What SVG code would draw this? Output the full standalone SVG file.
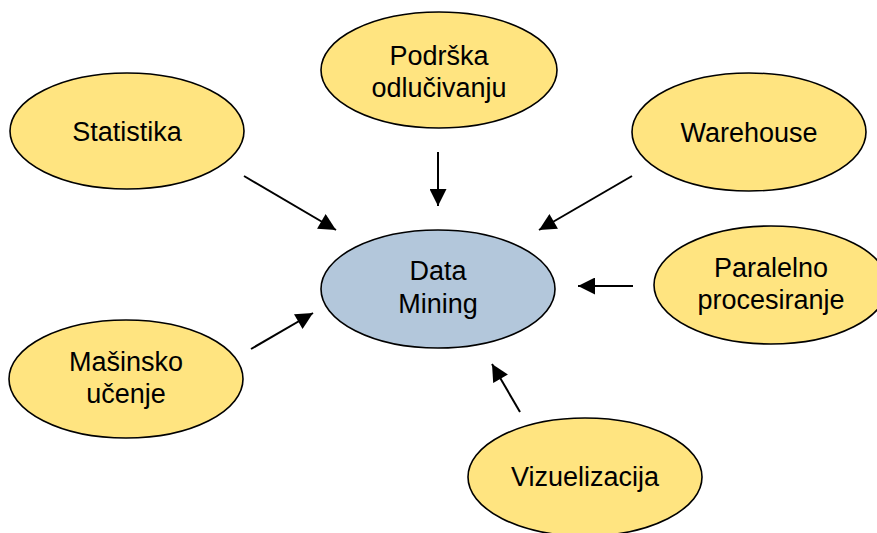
<svg xmlns="http://www.w3.org/2000/svg" width="877" height="533" viewBox="0 0 877 533">
<defs>
<style>
.y{fill:#FFE480;stroke:#000;stroke-width:1.6}
.b{fill:#B3C7DB;stroke:#000;stroke-width:1.6}
text{font-family:"Liberation Sans",Arial,sans-serif;font-size:27px;fill:#000;text-anchor:middle}
.c{stroke:#000;stroke-width:2;fill:none;marker-end:url(#ah)}
</style>
<marker id="ah" viewBox="0 0 10 10" refX="10" refY="5" markerUnits="userSpaceOnUse" markerWidth="18" markerHeight="17" orient="auto">
<path d="M0,0 L10,5 L0,10 Z" fill="#000"/>
</marker>
</defs>
<rect width="877" height="533" fill="#fff"/>
<g id="connectors">
<line class="c" x1="244" y1="176" x2="336" y2="230"/>
<line class="c" x1="438" y1="152" x2="438" y2="206"/>
<line class="c" x1="632" y1="176" x2="539" y2="230"/>
<line class="c" x1="633" y1="286" x2="578" y2="286"/>
<line class="c" x1="251" y1="349" x2="313" y2="313"/>
<line class="c" x1="520" y1="412" x2="492" y2="364"/>
</g>
<g id="data-mining">
<ellipse class="b" cx="438" cy="289" rx="117" ry="59"/>
<text x="438" y="280">Data</text>
<text x="438" y="313">Mining</text>
</g>
<g id="statistika">
<ellipse class="y" cx="127" cy="131" rx="117" ry="58"/>
<text x="127" y="141">Statistika</text>
</g>
<g id="podrska">
<ellipse class="y" cx="439" cy="70" rx="118" ry="58"/>
<text x="439" y="65">Podrška</text>
<text x="439" y="97">odlučivanju</text>
</g>
<g id="warehouse">
<ellipse class="y" cx="749" cy="132" rx="117" ry="59"/>
<text x="749" y="142">Warehouse</text>
</g>
<g id="paralelno">
<ellipse class="y" cx="771" cy="285" rx="117" ry="59"/>
<text x="771" y="277">Paralelno</text>
<text x="771" y="309">procesiranje</text>
</g>
<g id="masinsko">
<ellipse class="y" cx="126" cy="379" rx="117" ry="59"/>
<text x="126" y="371">Mašinsko</text>
<text x="126" y="403">učenje</text>
</g>
<g id="vizuelizacija">
<ellipse class="y" cx="585" cy="477" rx="117" ry="59"/>
<text x="585" y="486">Vizuelizacija</text>
</g>
</svg>
